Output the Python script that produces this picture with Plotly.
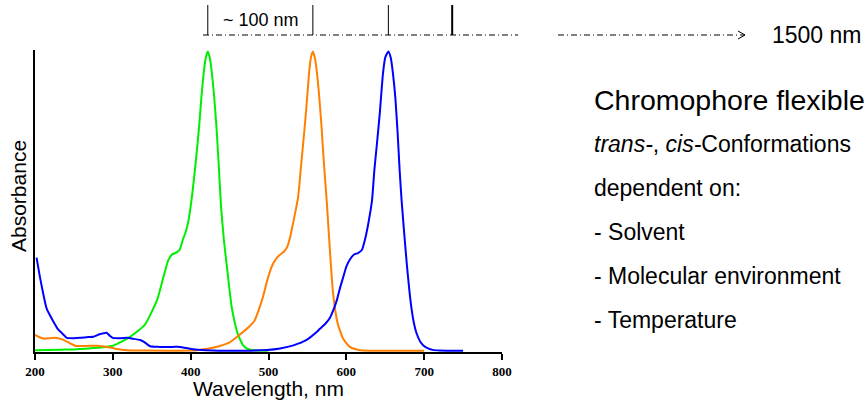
import plotly.graph_objects as go

# ---------------- data ----------------
green_nm = [200, 240, 270, 300, 322, 341, 357, 365, 371, 376, 382, 386, 390, 393, 397, 402,
            407, 411, 414, 417, 419.5, 422, 424.5, 427, 430, 433, 436, 439, 443, 447, 450,
            453, 457, 460, 464, 467, 472, 478, 490, 500]
green_abs = [0.002, 0.004, 0.008, 0.017, 0.046, 0.086, 0.17, 0.245, 0.30, 0.32, 0.327, 0.337,
             0.37, 0.39, 0.43, 0.52, 0.64, 0.75, 0.85, 0.93, 0.975, 0.995, 0.975, 0.93, 0.85,
             0.75, 0.62, 0.48, 0.36, 0.27, 0.20, 0.14, 0.09, 0.06, 0.035, 0.02, 0.008, 0.003,
             0.001, 0.0]

orange_nm = [200, 206, 212, 225, 235, 245, 252, 265, 280, 295, 305, 318, 340, 400, 410, 430,
             450, 465, 475, 482, 488, 493, 498, 502, 506, 511, 515, 520, 524, 528, 532, 538,
             542, 546, 549, 552, 554.5, 557, 559.5, 562, 565, 568, 571, 575, 579, 583, 589,
             596, 605, 618, 640, 700]
orange_abs = [0.053, 0.045, 0.040, 0.043, 0.038, 0.025, 0.016, 0.016, 0.017, 0.012, 0.006,
              0.002, 0.001, 0.001, 0.003, 0.011, 0.028, 0.058, 0.08, 0.10, 0.14, 0.18, 0.23,
              0.265, 0.29, 0.31, 0.32, 0.33, 0.345, 0.38, 0.43, 0.51, 0.62, 0.73, 0.82, 0.92,
              0.975, 0.995, 0.975, 0.93, 0.85, 0.75, 0.63, 0.49, 0.33, 0.19, 0.09, 0.04, 0.012,
              0.002, 0.0, 0.0]

blue_nm = [202, 206, 209, 215, 223, 230, 236, 241, 250, 258, 268, 275, 283, 292, 296, 300,
           310, 318, 326, 335, 340, 348, 360, 377, 386, 395, 403, 420, 454, 498, 515, 532,
           549, 560, 566, 573, 579, 584, 588, 592, 596, 600, 605, 610, 615, 620, 624, 628,
           633, 636, 639, 643, 647, 650, 654, 657, 660, 663, 666, 668.5, 671, 675, 678, 681,
           684, 687, 690, 695, 699, 705, 711, 720, 750]
blue_abs = [0.31, 0.25, 0.21, 0.14, 0.10, 0.07, 0.055, 0.043, 0.042, 0.043, 0.046, 0.047,
            0.055, 0.06, 0.05, 0.043, 0.042, 0.043, 0.040, 0.036, 0.03, 0.015, 0.013, 0.013,
            0.013, 0.009, 0.005, 0.002, 0.0, 0.003, 0.008, 0.018, 0.036, 0.058, 0.073, 0.09,
            0.11, 0.14, 0.17, 0.21, 0.245, 0.28, 0.305, 0.32, 0.325, 0.335, 0.37, 0.42, 0.50,
            0.60, 0.68, 0.79, 0.92, 0.975, 0.995, 0.975, 0.92, 0.84, 0.72, 0.60, 0.50, 0.37,
            0.28, 0.20, 0.136, 0.09, 0.06, 0.03, 0.018, 0.008, 0.003, 0.001, 0.0]

x_ticks = [200, 300, 400, 500, 600, 700, 800]
extra_marker_nm = 736          # fourth bar on the top scale
range_label = "~ 100 nm"
far_label = "1500 nm"
heading = "Chromophore flexible"
bullets = ["<i>trans-</i>, <i>cis-</i>Conformations", "dependent on:", "- Solvent",
           "- Molecular environment", "- Temperature"]

series = [("green", green_nm, green_abs, "#00ee00"),
          ("orange", orange_nm, orange_abs, "#ff8000"),
          ("blue", blue_nm, blue_abs, "#0000ff")]

# ---------------- figure ----------------
X0, X1 = 200, 800
L, R, T, B, W, H = 35, 364, 50, 48, 866, 400
PW, PH = W - L - R, H - T - B


def px_x(p):  # pixel -> paper x
    return (p - L) / PW


def px_y(p):  # pixel -> paper y
    return (H - B - p) / PH


def nm_x(nm):  # wavelength -> paper x
    return (nm - X0) / (X1 - X0)


fig = go.Figure()
for name, xs, ys, col in series:
    fig.add_trace(go.Scatter(x=xs, y=ys, mode="lines", name=name,
                             line=dict(color=col, width=2, shape="spline", smoothing=0.5),
                             hoverinfo="skip"))

shapes = []
# markers above the peaks
peak_nms = [xs[ys.index(max(ys))] for _, xs, ys, _ in series] + [extra_marker_nm]
for i, nm in enumerate(peak_nms):
    shapes.append(dict(type="line", xref="paper", yref="paper",
                       x0=nm_x(nm), x1=nm_x(nm), y0=px_y(35), y1=px_y(5),
                       line=dict(color="black", width=2 if i == 3 else 1)))
dash = "6px,3px,1px,3px"
shapes.append(dict(type="line", xref="paper", yref="paper",
                   x0=px_x(203), x1=px_x(518), y0=px_y(35), y1=px_y(35),
                   line=dict(color="black", width=1, dash=dash)))
shapes.append(dict(type="line", xref="paper", yref="paper",
                   x0=px_x(558), x1=px_x(745), y0=px_y(35), y1=px_y(35),
                   line=dict(color="black", width=1, dash=dash)))
shapes.append(dict(type="path", xref="paper", yref="paper",
                   path=f"M {px_x(738)},{px_y(31)} L {px_x(745)},{px_y(35)} L {px_x(738)},{px_y(39)}",
                   line=dict(color="black", width=1)))

SANS = "Liberation Sans, Arial, sans-serif"
ann = []
ann.append(dict(text=range_label, xref="paper", yref="paper", x=px_x(261), y=px_y(20),
                xanchor="center", yanchor="middle", showarrow=False,
                font=dict(family=SANS, size=18, color="black")))
ann.append(dict(text=far_label, xref="paper", yref="paper", x=px_x(770), y=px_y(35),
                xanchor="left", yanchor="middle", showarrow=False,
                font=dict(family=SANS, size=23, color="black")))
ann.append(dict(text=heading, xref="paper", yref="paper", x=px_x(592), y=px_y(100),
                xanchor="left", yanchor="middle", showarrow=False,
                font=dict(family=SANS, size=28.5, color="black")))
for i, t in enumerate(bullets):
    ann.append(dict(text=t, xref="paper", yref="paper", x=px_x(592), y=px_y(144 + 44 * i),
                    xanchor="left", yanchor="middle", showarrow=False,
                    font=dict(family=SANS, size=23, color="black")))
ann.append(dict(text="Wavelength, nm", xref="paper", yref="paper", x=0.5, y=px_y(388),
                xanchor="center", yanchor="middle", showarrow=False,
                font=dict(family=SANS, size=21, color="black")))
ann.append(dict(text="Absorbance", xref="paper", yref="paper", x=px_x(18), y=px_y(196),
                xanchor="center", yanchor="middle", showarrow=False, textangle=-90,
                font=dict(family=SANS, size=21, color="black")))

fig.update_layout(
    width=W, height=H, margin=dict(l=L, r=R, t=T, b=B, autoexpand=False),
    paper_bgcolor="white", plot_bgcolor="white", showlegend=False,
    shapes=shapes, annotations=ann,
    xaxis=dict(range=[X0, X1], tickvals=x_ticks, ticktext=[str(v) for v in x_ticks],
               showline=True, linecolor="black", linewidth=2, ticks="outside", ticklen=6,
               tickwidth=2, tickcolor="black", showgrid=False, zeroline=False,
               tickfont=dict(family="Liberation Serif, Times New Roman, serif", size=13,
                             color="black", weight="bold")),
    yaxis=dict(range=[-0.004, 1.0], showline=True, linecolor="black", linewidth=2,
               ticks="", showticklabels=False, showgrid=False, zeroline=False),
)

fig.write_html("out.html")
